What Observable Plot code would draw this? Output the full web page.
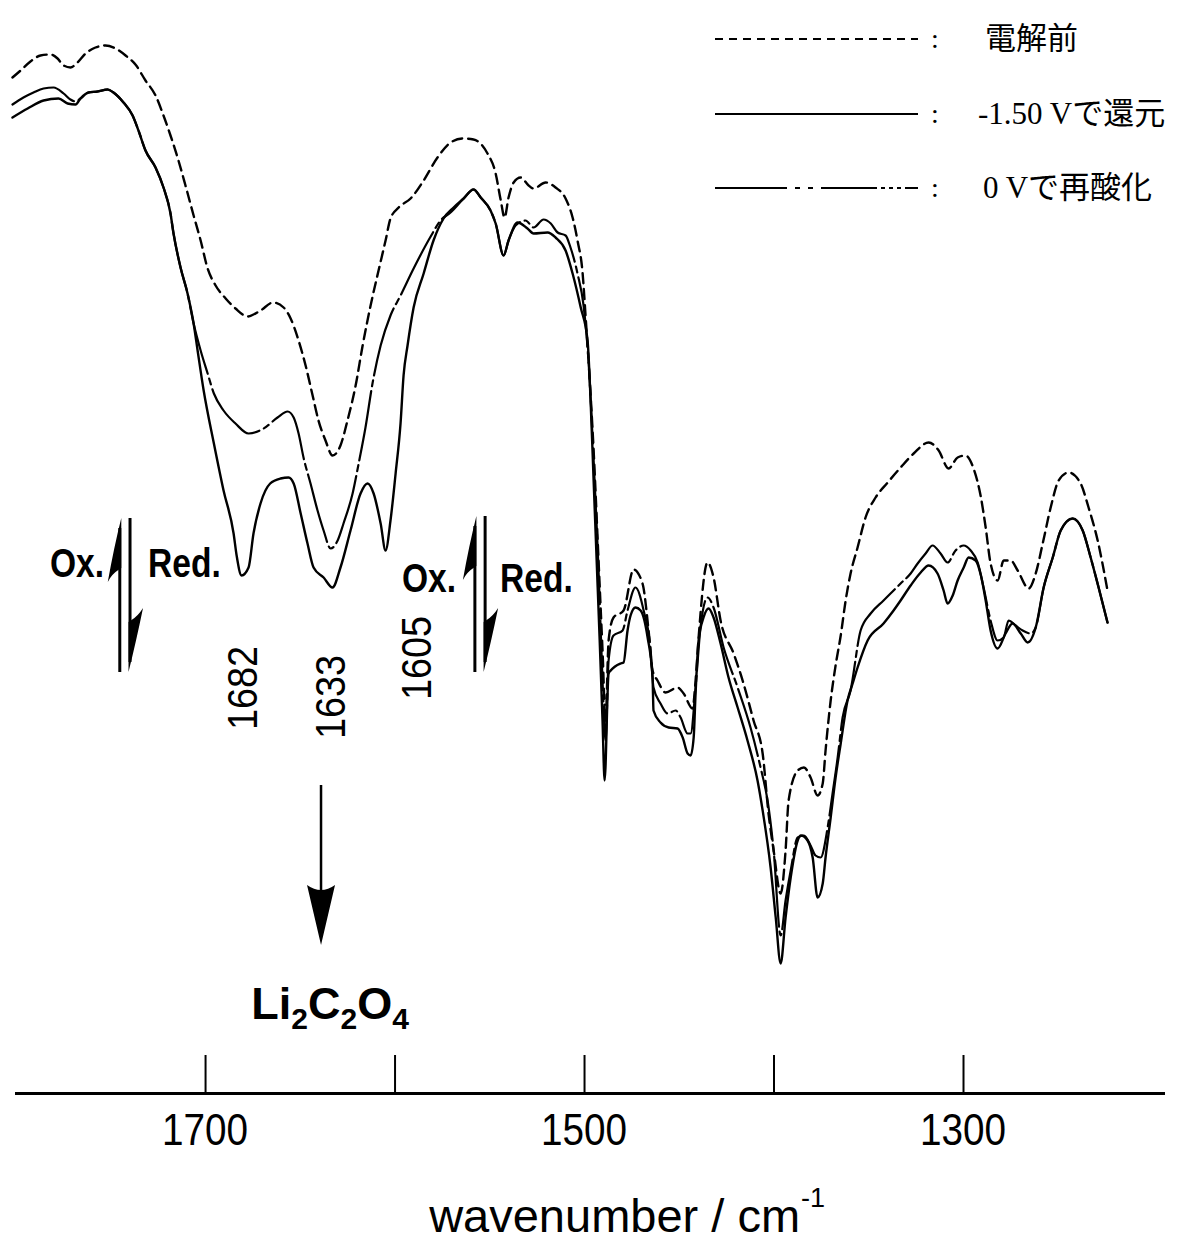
<!DOCTYPE html>
<html><head><meta charset="utf-8">
<script src="https://cdn.jsdelivr.net/npm/d3@7"></script>
<script src="https://cdn.jsdelivr.net/npm/@observablehq/plot@0.6"></script>
<style>
html,body{margin:0;padding:0;background:#fff;}
#chart{width:1181px;height:1242px;}
</style></head><body><div id="chart"></div>
<script>
// ---- data: [wavenumber (cm-1), transmittance (a.u.)] ----
const beforeSpectrum = [[1801.9,101.6],[1797.6,102.3],[1792.4,103.2],[1787.1,103.8],[1781.8,103.9],[1778.1,103.5],[1774.9,102.8],[1771.3,102.6],[1767.6,103.1],[1763.3,104.0],[1758.1,104.6],[1752.8,104.8],[1747.5,104.5],[1742.2,103.8],[1737.0,102.9],[1731.7,101.3],[1726.4,99.8],[1722.2,97.8],[1718.5,95.8],[1714.3,93.3],[1710.6,90.8],[1706.3,87.8],[1702.6,85.3],[1698.9,82.5],[1694.7,80.8],[1689.4,79.5],[1684.2,78.5],[1677.8,77.7],[1671.0,78.3],[1664.3,79.1],[1658.8,78.6],[1655.1,77.5],[1650.9,75.3],[1647.2,72.8],[1643.5,69.8],[1640.4,67.3],[1636.7,65.3],[1633.0,63.8],[1628.8,64.8],[1625.1,67.3],[1620.8,70.8],[1617.1,74.8],[1612.9,78.8],[1608.7,82.3],[1605.0,85.3],[1602.4,87.5],[1598.1,88.6],[1591.8,89.5],[1584.9,91.3],[1577.6,93.6],[1570.7,95.1],[1564.4,95.5],[1558.6,95.4],[1551.2,94.0],[1546.9,92.0],[1544.2,89.3],[1542.2,87.6],[1540.1,89.6],[1537.4,91.1],[1533.7,91.6],[1529.5,90.8],[1526.9,90.5],[1520.5,91.1],[1515.3,90.6],[1510.0,89.5],[1506.3,87.6],[1503.7,85.3],[1501.0,82.0],[1499.4,77.6],[1497.9,73.3],[1495.2,64.3],[1492.6,53.3],[1490.5,44.3],[1488.9,37.3],[1487.3,45.3],[1484.7,47.6],[1479.4,48.3],[1474.1,52.4],[1469.4,51.0],[1466.2,46.3],[1464.1,42.3],[1461.5,41.3],[1457.2,40.1],[1450.9,40.6],[1447.7,40.0],[1443.0,38.5],[1441.4,41.3],[1439.8,45.6],[1435.1,53.1],[1431.9,51.6],[1428.2,47.3],[1421.3,44.0],[1416.1,41.0],[1410.8,37.3],[1406.0,34.0],[1402.9,28.0],[1400.2,24.3],[1396.5,20.0],[1393.9,24.3],[1392.3,29.3],[1387.5,32.3],[1384.2,32.6],[1380.7,31.6],[1377.0,29.8],[1374.3,31.0],[1372.8,34.3],[1370.1,39.3],[1367.5,42.8],[1364.8,45.8],[1362.2,49.3],[1359.6,52.0],[1355.9,54.6],[1351.7,57.6],[1346.4,59.6],[1340.0,61.1],[1333.2,62.6],[1326.3,64.0],[1318.4,65.1],[1313.1,64.3],[1307.9,62.5],[1303.1,63.6],[1298.9,63.8],[1294.7,62.5],[1290.8,59.6],[1288.3,56.6],[1285.7,53.0],[1282.0,51.3],[1278.8,53.3],[1275.1,53.3],[1271.4,52.3],[1265.6,50.5],[1261.9,52.0],[1258.2,55.0],[1254.0,58.6],[1249.8,61.3],[1244.5,62.1],[1238.2,61.0],[1234.0,58.6],[1229.2,55.3],[1224.0,50.3]];

const reducedSpectrum = [[1801.9,97.6],[1793.9,98.5],[1785.5,99.3],[1777.6,99.5],[1772.8,99.0],[1768.6,98.9],[1766.0,99.5],[1761.8,100.1],[1757.0,100.2],[1751.7,100.4],[1748.6,100.1],[1743.3,99.1],[1738.5,97.8],[1735.4,96.3],[1731.7,94.3],[1726.4,92.6],[1722.2,90.6],[1718.5,88.0],[1716.9,86.0],[1713.2,82.6],[1709.5,80.0],[1706.3,77.0],[1704.2,74.3],[1701.0,70.3],[1695.6,65.0],[1690.5,60.3],[1685.2,56.0],[1683.6,53.8],[1681.0,51.8],[1677.3,52.6],[1674.7,56.0],[1671.0,59.0],[1665.9,61.0],[1660.4,61.5],[1656.2,61.6],[1653.5,61.0],[1649.8,58.0],[1646.2,55.0],[1643.0,52.6],[1637.7,51.6],[1633.0,50.6],[1628.8,52.6],[1623.5,56.3],[1618.2,60.0],[1614.5,61.0],[1611.3,60.0],[1607.6,57.0],[1605.0,54.3],[1602.4,57.3],[1599.7,62.0],[1597.1,67.0],[1595.5,71.8],[1593.4,74.8],[1590.2,78.6],[1584.9,82.0],[1579.7,85.3],[1574.4,87.5],[1569.1,88.6],[1563.8,89.5],[1558.6,90.4],[1554.8,89.6],[1549.6,88.3],[1546.9,87.0],[1542.7,83.8],[1540.1,85.3],[1535.3,87.1],[1530.1,86.5],[1526.9,86.0],[1519.5,86.1],[1515.3,85.6],[1510.0,84.3],[1506.3,82.0],[1502.0,78.6],[1498.4,75.3],[1496.8,69.3],[1495.2,61.3],[1493.6,53.3],[1492.0,45.3],[1490.5,37.3],[1489.4,31.3],[1487.3,42.0],[1486.2,42.3],[1481.0,43.0],[1479.4,43.1],[1477.3,46.3],[1475.7,47.8],[1473.1,48.6],[1470.4,48.3],[1466.7,45.6],[1464.1,41.6],[1463.6,38.3],[1459.9,37.1],[1455.6,36.6],[1450.9,36.5],[1448.2,35.6],[1445.6,34.0],[1444.0,33.8],[1442.4,35.6],[1441.4,40.0],[1439.8,45.3],[1437.2,47.6],[1434.5,48.5],[1431.9,47.6],[1428.2,45.0],[1424.0,41.6],[1419.2,38.6],[1414.0,35.3],[1408.7,31.3],[1406.0,28.3],[1401.8,22.6],[1399.1,17.6],[1396.5,13.0],[1393.9,17.6],[1391.2,21.6],[1387.5,25.3],[1385.8,25.8],[1382.3,25.3],[1379.6,23.6],[1377.0,19.6],[1374.3,21.0],[1372.8,23.6],[1370.1,27.6],[1367.5,31.6],[1364.8,35.0],[1361.2,39.3],[1358.5,41.0],[1355.9,42.6],[1350.6,45.3],[1342.2,47.0],[1336.9,48.3],[1333.2,49.3],[1327.9,50.8],[1322.6,52.1],[1318.4,52.8],[1313.7,52.0],[1310.5,50.3],[1308.4,49.0],[1305.7,49.8],[1303.1,51.3],[1299.9,52.6],[1297.3,53.6],[1293.6,53.3],[1290.8,51.8],[1288.3,49.3],[1285.7,46.3],[1282.0,44.5],[1277.8,46.0],[1274.1,47.0],[1269.8,46.0],[1266.1,45.1],[1261.9,46.6],[1257.7,50.6],[1252.9,53.6],[1248.7,56.3],[1242.4,57.5],[1237.1,56.3],[1232.9,53.6],[1228.7,50.6],[1224.0,47.1]];

const reoxidizedSpectrum = [[1801.9,98.9],[1796.1,99.6],[1790.8,100.1],[1785.5,100.5],[1780.2,100.6],[1774.9,100.0],[1771.3,99.4],[1768.6,99.2],[1766.0,99.5],[1761.8,100.1],[1757.0,100.2],[1751.7,100.4],[1748.6,100.1],[1743.3,99.1],[1738.5,97.8],[1735.4,96.3],[1731.7,94.3],[1726.4,92.6],[1722.2,90.6],[1718.5,88.0],[1716.9,86.0],[1713.2,82.6],[1709.5,80.0],[1706.3,77.0],[1702.6,74.3],[1698.9,72.0],[1695.6,70.0],[1690.5,68.3],[1684.2,67.0],[1677.3,66.0],[1669.4,66.5],[1662.0,67.6],[1656.7,68.2],[1653.5,67.6],[1650.9,66.0],[1648.3,63.6],[1644.6,61.0],[1640.9,58.3],[1637.7,56.3],[1634.0,54.5],[1630.3,55.3],[1627.2,57.0],[1622.4,60.0],[1619.2,63.0],[1615.6,66.6],[1611.9,71.0],[1607.6,74.8],[1602.4,77.8],[1597.1,79.8],[1590.2,82.5],[1581.2,85.7],[1576.0,87.3],[1570.7,88.1],[1563.8,89.5],[1558.6,90.4],[1554.8,89.6],[1549.6,88.3],[1546.9,87.0],[1542.7,83.8],[1540.1,85.3],[1536.4,86.8],[1531.1,87.3],[1526.9,86.6],[1521.6,87.4],[1517.8,87.0],[1514.2,86.1],[1510.0,85.8],[1507.4,84.6],[1503.7,82.0],[1500.5,78.8],[1497.9,73.3],[1495.2,63.3],[1492.6,52.3],[1490.5,41.3],[1488.9,35.3],[1487.3,43.3],[1484.7,45.8],[1479.9,46.3],[1477.3,48.3],[1473.1,50.6],[1468.8,48.3],[1465.1,44.3],[1463.6,40.6],[1459.9,39.0],[1456.2,38.0],[1451.9,38.3],[1449.3,37.6],[1445.6,36.0],[1444.0,36.0],[1441.4,40.6],[1438.8,46.6],[1435.1,49.6],[1431.9,48.6],[1426.6,44.6],[1419.2,40.6],[1412.4,36.6],[1407.1,32.6],[1403.4,29.3],[1400.2,24.3],[1396.5,15.8],[1393.9,19.3],[1391.2,22.3],[1387.5,25.6],[1384.2,25.8],[1380.7,24.8],[1378.1,23.8],[1375.4,23.6],[1371.7,26.6],[1369.1,30.0],[1366.4,33.6],[1363.8,37.6],[1359.6,40.3],[1354.3,46.3],[1349.0,48.0],[1342.2,49.3],[1336.9,50.3],[1333.2,51.0],[1327.9,52.0],[1324.2,53.0],[1320.0,54.0],[1316.3,54.8],[1312.1,54.0],[1308.4,53.1],[1304.2,54.3],[1299.9,54.8],[1296.2,54.3],[1292.5,53.1],[1289.4,50.6],[1285.7,47.3],[1282.0,45.3],[1278.8,45.6],[1276.2,47.3],[1272.5,46.8],[1268.8,46.3],[1264.5,46.0],[1261.9,46.6],[1257.7,50.6],[1252.9,53.6],[1248.7,56.3],[1242.4,57.5],[1237.1,56.3],[1232.9,53.6],[1228.7,50.6],[1224.0,47.1]];

const seriesNames = ["電解前", "-1.50 Vで還元", "0 Vで再酸化"];
const majorTicks = [1700, 1600, 1500, 1400, 1300];
const tickLabels = [1700, 1500, 1300];
const xDomain = [1800.3, 1193.4];
const yDomain = [0, 109.3];

// annotations (data units)
const bandLabels = [
  {text: "1682", w: 1680.5, t: 40.5},
  {text: "1633", w: 1634.0, t: 39.6},
  {text: "1605", w: 1588.6, t: 43.5}
];
const redoxText = [
  {text: "Ox.", w: 1753.3, t: 53.0, anchor: "end"},
  {text: "Red.", w: 1730.1, t: 53.0, anchor: "start"},
  {text: "Ox.", w: 1567.5, t: 51.5, anchor: "end"},
  {text: "Red.", w: 1544.3, t: 51.5, anchor: "start"}
];
const redoxArrows = [ // up-shaft w, down-shaft w, top t, bottom t
  {up: 1745.0, down: 1739.6, top: 57.5, bottom: 42.1},
  {up: 1557.6, down: 1552.2, top: 57.7, bottom: 42.1}
];
const productArrow = {w: 1638.8, top: 30.8, tip: 14.8};
const productLabel = {w: 1634.0, t: 9.0};
const axisTitle = {w: 1386.0, t: -13.9};

const toObj = arr => arr.map(([w, t]) => ({w, t}));
const before = toObj(beforeSpectrum), reduced = toObj(reducedSpectrum), reox = toObj(reoxidizedSpectrum);

const SANS = "'Liberation Sans',Arial,Helvetica,sans-serif";
const SERIF_JP = "'Liberation Serif','Noto Sans CJK JP',serif";

const plot = Plot.plot({
  width: 1181, height: 1242,
  marginLeft: 15, marginRight: 16, marginTop: 0, marginBottom: 149,
  style: {fontFamily: SANS, background: "#fff", color: "#000"},
  x: {domain: xDomain, axis: null},
  y: {domain: yDomain, axis: null},
  marks: [
    Plot.ruleY([0], {strokeWidth: 3}),
    Plot.ruleX(majorTicks, {x: d => d, y1: 0, y2: 3.8, strokeWidth: 2}),
    Plot.line(before, {x: "w", y: "t", stroke: "#000", strokeWidth: 2.4, strokeDasharray: "10,6", curve: "monotone-x"}),
    Plot.line(reox, {x: "w", y: "t", stroke: "#000", strokeWidth: 2.2, strokeDasharray: "70,5,6,5", curve: "monotone-x"}),
    Plot.line(reduced, {x: "w", y: "t", stroke: "#000", strokeWidth: 2.4, curve: "monotone-x"})
  ]
});
document.getElementById("chart").appendChild(plot);

const X = plot.scale("x"), Y = plot.scale("y");
const sx = w => X.apply(w), sy = t => Y.apply(t);
const svg = d3.select(plot);

function label(x, y, str, o) {
  return svg.append("text")
    .attr("transform", `translate(${x},${y}) rotate(${o.rotate || 0}) scale(${o.sx || 1},1)`)
    .attr("text-anchor", o.anchor || "middle")
    .attr("dy", o.dy == null ? "0.35em" : o.dy)
    .attr("font-family", o.family || SANS)
    .attr("font-size", o.size)
    .attr("font-weight", o.weight || "normal")
    .attr("fill", "#000")
    .text(str);
}

// tick labels
tickLabels.forEach(v => label(sx(v), sy(0) + 36, String(v), {size: 45, sx: 0.86}));

// band labels (rotated)
bandLabels.forEach(b => label(sx(b.w), sy(b.t), b.text, {size: 42, rotate: -90, sx: 0.9}));

// Ox./Red.
redoxText.forEach(r => label(sx(r.w), sy(r.t), r.text, {size: 40, weight: "bold", anchor: r.anchor, sx: 0.84}));

const g = svg.append("g").attr("fill", "#000").attr("stroke", "#000");

// redox double arrows (harpoons)
redoxArrows.forEach(a => {
  const xu = sx(a.up), xd = sx(a.down), yt = sy(a.top), yb = sy(a.bottom);
  g.append("line").attr("x1", xu).attr("x2", xu).attr("y1", yt + 10).attr("y2", yb).attr("stroke-width", 3);
  g.append("path").attr("stroke", "none")
    .attr("d", `M${xu + 1.5},${yt} L${xu + 1.5},${yt + 50} L${xu - 1.5},${yt + 52} Q${xu - 8},${yt + 56} ${xu - 12},${yt + 64} Q${xu - 6},${yt + 30} ${xu + 1.5},${yt} Z`);
  g.append("line").attr("x1", xd).attr("x2", xd).attr("y1", yt).attr("y2", yb - 10).attr("stroke-width", 3);
  g.append("path").attr("stroke", "none")
    .attr("d", `M${xd - 1.5},${yb} L${xd - 1.5},${yb - 50} L${xd + 1.5},${yb - 52} Q${xd + 8},${yb - 56} ${xd + 13},${yb - 64} Q${xd + 6},${yb - 30} ${xd - 1.5},${yb} Z`);
});

// product arrow
{
  const x = sx(productArrow.w), y0 = sy(productArrow.top), y1 = sy(productArrow.tip);
  g.append("line").attr("x1", x).attr("x2", x).attr("y1", y0).attr("y2", y1 - 50).attr("stroke-width", 2.5);
  g.append("path").attr("stroke", "none")
    .attr("d", `M${x},${y1} L${x - 14},${y1 - 60} Q${x},${y1 - 50} ${x + 14},${y1 - 60} Z`);
}

// Li2C2O4 label
{
  const t = svg.append("text").attr("x", sx(productLabel.w)).attr("y", sy(productLabel.t))
    .attr("text-anchor", "middle").attr("dy", "0.35em")
    .attr("font-family", SANS).attr("font-weight", "bold").attr("font-size", 45).attr("fill", "#000");
  const parts = [["Li", false], ["2", true], ["C", false], ["2", true], ["O", false], ["4", true]];
  parts.forEach(([s, sub], i) => {
    const ts = t.append("tspan").text(s);
    if (sub) ts.attr("font-size", 30).attr("dy", 10);
    else if (i > 0) ts.attr("dy", -10);
  });
}

// x-axis title
{
  const xt = sx(axisTitle.w), yt = sy(axisTitle.t);
  svg.append("text").attr("x", xt).attr("y", yt).attr("text-anchor", "end")
    .attr("font-family", SANS).attr("font-size", 47).attr("fill", "#000")
    .text("wavenumber / cm");
  svg.append("text").attr("x", xt + 1).attr("y", yt - 25).attr("text-anchor", "start")
    .attr("font-family", SANS).attr("font-size", 27).attr("fill", "#000")
    .text("-1");
}

// legend (top right)
{
  const rows = [
    {y: 38, dash: "8,6", label: seriesNames[0], tx: 985},
    {y: 113, dash: null, label: seriesNames[1], tx: 978},
    {y: 187, dash: "72,8,5,8,5,8,56,4,4,4,4,4,4,4", label: seriesNames[2], tx: 983}
  ];
  const lg = svg.append("g");
  rows.forEach(r => {
    const ln = lg.append("line").attr("x1", 715).attr("x2", 918).attr("y1", r.y + 1).attr("y2", r.y + 1)
      .attr("stroke", "#000").attr("stroke-width", 2.2);
    if (r.dash) ln.attr("stroke-dasharray", r.dash);
    lg.append("text").attr("x", 935).attr("y", r.y).attr("text-anchor", "middle").attr("dy", "0.35em")
      .attr("font-family", SERIF_JP).attr("font-size", 28).text(":");
    lg.append("text").attr("x", r.tx).attr("y", r.y).attr("text-anchor", "start").attr("dy", "0.35em")
      .attr("font-family", SERIF_JP).attr("font-size", 31).text(r.label);
  });
}
</script>
</body></html>
